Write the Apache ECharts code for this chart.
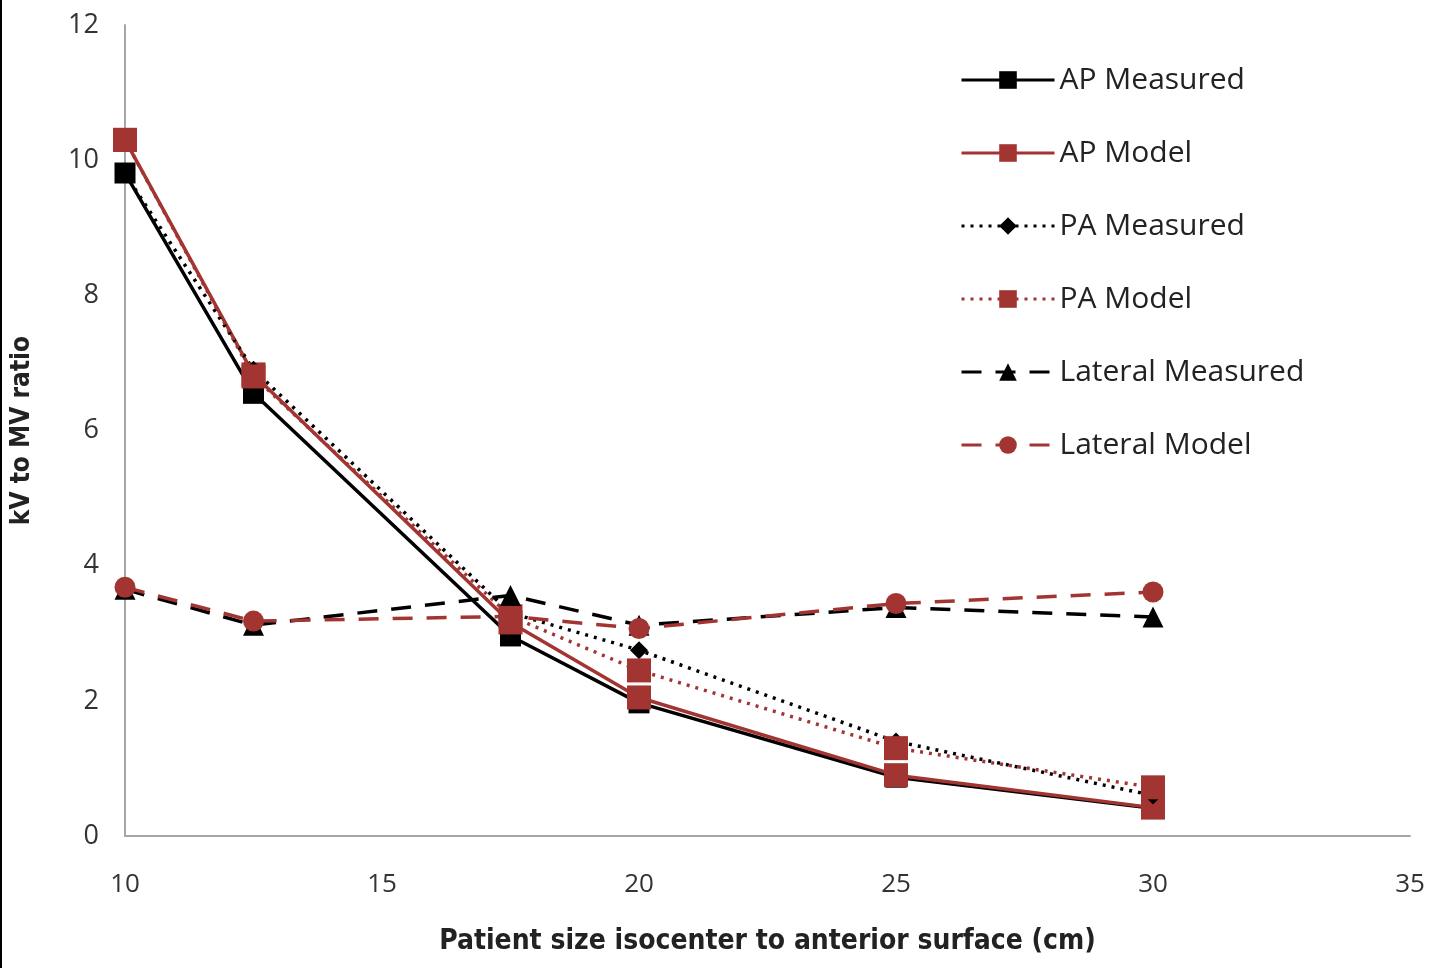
<!DOCTYPE html>
<html>
<head>
<meta charset="utf-8">
<script src="https://cdn.jsdelivr.net/npm/echarts@6/dist/echarts.min.js"></script>
<style>
  html, body { margin: 0; padding: 0; background: #fff; }
  #chart { width: 1452px; height: 968px; }
</style>
</head>
<body>
<div id="chart"></div>
<script>
// patient size (cm)
var sizes = [10, 12.5, 17.5, 20, 25, 30];

var apMeasured = [9.81, 6.55, 2.96, 1.97, 0.87, 0.41];
var apModel = [10.3, 6.83, 3.16, 2.05, 0.9, 0.42];
var paMeasured = [9.8, 6.9, 3.3, 2.75, 1.4, 0.6];
var paModel = [10.3, 6.8, 3.25, 2.45, 1.3, 0.72];
var latMeasured = [3.65, 3.12, 3.56, 3.12, 3.38, 3.24];
var latModel = [3.68, 3.18, 3.25, 3.07, 3.44, 3.61];

var RED = '#a23532';
var BLK = '#000000';
var COND = "'DejaVu Sans Condensed', 'DejaVu Sans', sans-serif";

function pairs(vals) {
  var out = [];
  for (var i = 0; i < sizes.length; i++) {
    out.push([sizes[i], vals[i]]);
  }
  return out;
}

function mk(name, vals, color, type, symbol, size) {
  return {
    name: name,
    type: 'line',
    data: pairs(vals),
    symbol: symbol,
    symbolSize: size,
    showSymbol: true,
    itemStyle: { color: color },
    lineStyle: { color: color, width: 3.5, type: type },
    animation: false
  };
}

var chart = echarts.init(document.getElementById('chart'));
var option = {
  backgroundColor: '#fff',
  textStyle: { fontFamily: 'Open Sans' },
  grid: { left: 125, right: 42, top: 25, bottom: 132 },
  legend: {
    orient: 'vertical',
    left: 955,
    top: 60,
    itemWidth: 93,
    itemHeight: 22,
    itemGap: 43,
    lineStyle: { width: 3 },
    textStyle: { fontSize: 30, color: '#222', fontFamily: 'Open Sans', letterSpacing: 1 },
    data: ['AP Measured', 'AP Model', 'PA Measured', 'PA Model', 'Lateral Measured', 'Lateral Model']
  },
  xAxis: {
    type: 'value',
    min: 10,
    max: 35,
    interval: 5,
    name: 'Patient size isocenter to anterior surface (cm)',
    nameLocation: 'middle',
    nameGap: 92,
    nameTextStyle: { fontSize: 28, fontWeight: 'bold', color: '#222', fontFamily: COND },
    axisLine: { show: true, lineStyle: { color: '#a6a6a6', width: 2 } },
    axisTick: { show: false },
    splitLine: { show: false },
    axisLabel: { fontSize: 26, color: '#333', margin: 36 }
  },
  yAxis: {
    type: 'value',
    min: 0,
    max: 12,
    interval: 2,
    name: 'kV to MV ratio',
    nameLocation: 'middle',
    nameGap: 90,
    nameTextStyle: { fontSize: 26, fontWeight: 'bold', color: '#222', fontFamily: COND },
    axisLine: { show: true, lineStyle: { color: '#a6a6a6', width: 2 } },
    axisTick: { show: false },
    splitLine: { show: false },
    axisLabel: { fontSize: 27, color: '#333', margin: 26 }
  },
  graphic: [{
    type: 'rect',
    shape: { x: 0, y: 0, width: 2, height: 968 },
    style: { fill: '#000' }
  }],
  series: [
    mk('AP Measured', apMeasured, BLK, 'solid', 'rect', 21),
    mk('AP Model', apModel, RED, 'solid', 'rect', 24),
    mk('PA Measured', paMeasured, BLK, [3, 6], 'diamond', 18),
    mk('PA Model', paModel, RED, [3, 6], 'rect', 24),
    mk('Lateral Measured', latMeasured, BLK, [20, 14], 'triangle', 21),
    mk('Lateral Model', latModel, RED, [20, 14], 'circle', 21)
  ]
};
chart.setOption(option);
window.addEventListener('resize', function () {
  chart.resize();
});
</script>
</body>
</html>
